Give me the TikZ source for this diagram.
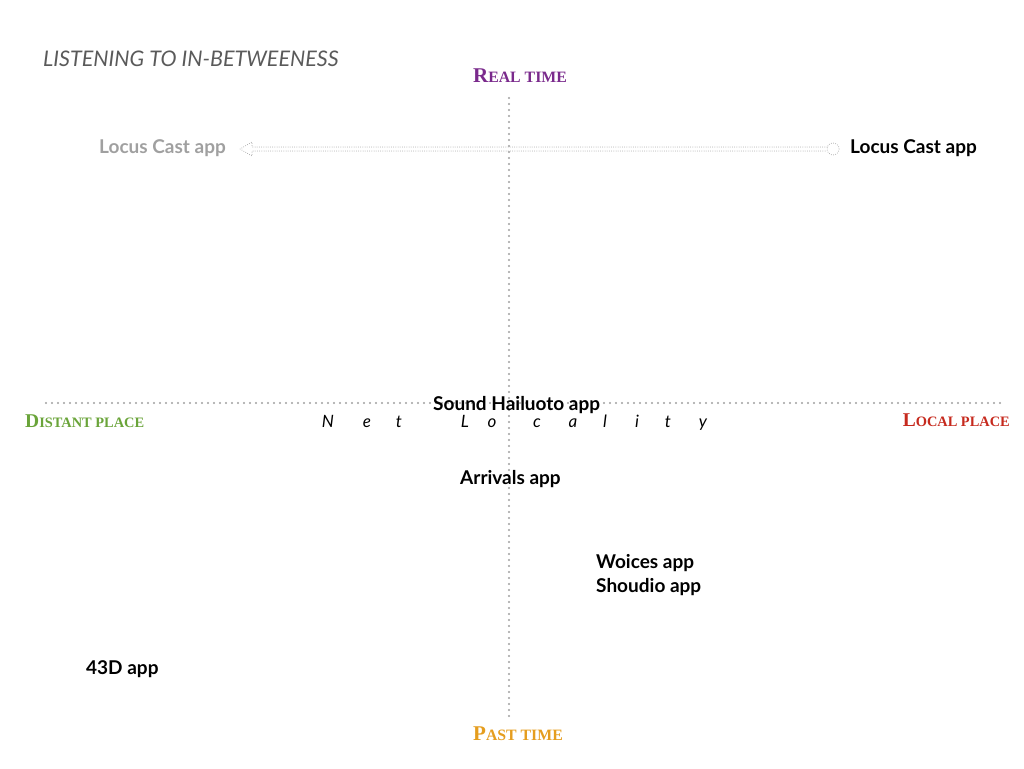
\documentclass[tikz,border=0pt]{standalone}
\usepackage{fontspec}
\setmainfont{Liberation Serif}
\newfontfamily\appfont{Lato}
\newfontfamily\titlefont{Lato}
\definecolor{cpurple}{HTML}{7A2A8C}
\definecolor{cgreen}{HTML}{6AA43A}
\definecolor{cred}{HTML}{C62A1E}
\definecolor{corange}{HTML}{E59D1E}
\definecolor{cgrey}{HTML}{A0A0A0}
\definecolor{ctitle}{HTML}{5A5A5A}
\newcommand{\mysc}[2]{{\fontsize{21}{21}\selectfont #1}{\fontsize{15.8}{15.8}\selectfont #2}}
\newcommand{\myscs}[2]{{\fontsize{19.5}{19.5}\selectfont #1}{\fontsize{14.4}{14.4}\selectfont #2}}
\begin{document}
\begin{tikzpicture}[x=1pt,y=-1pt,
  axisline/.style={draw=gray!75, line width=2.1pt, line cap=round, dash pattern=on 0pt off 6pt},
  arrline/.style={draw=gray!70, line width=1pt, line cap=round, dash pattern=on 0pt off 2.2pt},
  applabel/.style={inner sep=0pt, anchor=west, font=\appfont\bfseries\fontsize{19}{21}\selectfont},
  poleLabel/.style={inner sep=0pt, font=\bfseries},
  nlet/.style={inner sep=0pt, anchor=base, font=\appfont\itshape\fontsize{17}{18}\selectfont}]
\useasboundingbox (0,0) rectangle (1024,768);
% title
\node[inner sep=0pt, anchor=west, text=ctitle, font=\titlefont\itshape\fontsize{21.5}{23}\selectfont] (title) at (43,59) {LISTENING TO IN-BETWEENESS};
% axes
\coordinate (top) at (509,98);
\coordinate (bot) at (509,720);
\coordinate (lft) at (46,403);
\coordinate (rgt) at (1002,403);
\draw[axisline] (top) -- (bot);
\draw[axisline] (lft) -- (rgt);
% pole labels
\node[poleLabel, text=cpurple] (real) at (520,76) {\mysc{R}{EAL TIME}};
\node[poleLabel, text=corange] (past) at (518,734) {\mysc{P}{AST TIME}};
\node[poleLabel, text=cgreen, anchor=west] (distant) at (25,421) {\myscs{D}{ISTANT PLACE}};
\node[poleLabel, text=cred, anchor=east] (local) at (1010,420) {\myscs{L}{OCAL PLACE}};
% Net Locality
\foreach \ch/\xx [count=\i] in {N/328,e/367,t/399,L/465,o/492,c/537,a/573,l/605,i/637,t/668,y/703}
  \node[nlet] (nl\i) at (\xx,427) {\ch};
% app labels
\node[applabel, text=cgrey] (lcl) at (99,148) {Locus Cast app};
\node[applabel] (lcr) at (850,148) {Locus Cast app};
\node[applabel] (sound) at (433,405) {Sound Hailuoto app};
\node[applabel] (arr) at (460,479) {Arrivals app};
\node[applabel] (woi) at (596,563) {Woices app};
\node[applabel] (sho) at (596,587) {Shoudio app};
\node[applabel] (d43) at (86,669) {43D app};
% arrow from right Locus Cast to left Locus Cast
\coordinate (tail) at (833,149);
\coordinate (tip) at (240,149);
\draw[arrline] (827,147) -- (252,147) -- (252,142) -- (tip) -- (252,156) -- (252,151) -- (827,151);
\draw[arrline] (tail) circle[radius=6];
\end{tikzpicture}
\end{document}
